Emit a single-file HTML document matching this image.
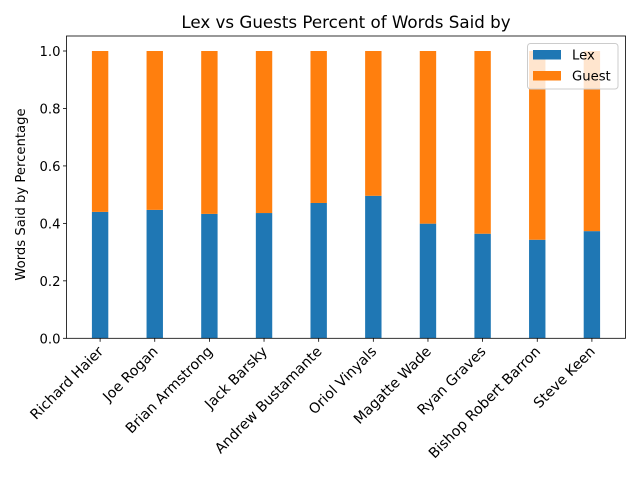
<!DOCTYPE html>
<html><head><meta charset="utf-8"><style>
body{margin:0;background:#fff}
svg{font-family:"DejaVu Sans","Liberation Sans",sans-serif}
</style></head><body>
<svg id="chart" width="640" height="480" xmlns="http://www.w3.org/2000/svg">
<rect width="640" height="480" fill="#fff"/>
<text x="346" y="28" text-anchor="middle" font-size="16.7">Lex vs Guests Percent of Words Said by</text>
<text transform="translate(25,194.5) rotate(-90)" text-anchor="middle" font-size="13.2">Words Said by Percentage</text>
<g id="bars"></g>
<g id="axes"></g>
<g>
<rect x="527.5" y="43.5" width="90.5" height="45.5" rx="3" fill="#fff" fill-opacity="0.8" stroke="#ccc"/>
<rect x="533" y="50" width="28" height="9.5" fill="#1f77b4"/>
<text x="572" y="59.5" font-size="13.2">Lex</text>
<rect x="533" y="71" width="28" height="9.5" fill="#ff7f0e"/>
<text x="572" y="80.5" font-size="13.2">Guest</text>
</g>
</svg>
<script>
const categories=["Richard Haier","Joe Rogan","Brian Armstrong","Jack Barsky","Andrew Bustamante","Oriol Vinyals","Magatte Wade","Ryan Graves","Bishop Robert Barron","Steve Keen"];
const lexValues=[0.44,0.447,0.433,0.436,0.471,0.496,0.399,0.364,0.343,0.373];
const guestValues=[0.56,0.553,0.567,0.564,0.529,0.504,0.601,0.636,0.657,0.627];
const yTicks=[0,0.2,0.4,0.6,0.8,1.0];
const yTickLabels=["0.0","0.2","0.4","0.6","0.8","1.0"];
const NS="http://www.w3.org/2000/svg";
const L=66.5,R=625.5,T=36,B=338.3;
const barW=0.3;
const xmin=-0.615,xmax=9.615,ymin=0;
const y1=(B-51)/1.0;
function xs(v){return L+(v-xmin)/(xmax-xmin)*(R-L);}
function ys(v){return B-(v-ymin)*y1;}
function mk(t,a,p){const e=document.createElementNS(NS,t);for(const k in a)e.setAttribute(k,a[k]);p.appendChild(e);return e;}
const bars=document.getElementById('bars'),axes=document.getElementById('axes');
const uw=(R-L)/(xmax-xmin);
categories.forEach((c,i)=>{
  const x=xs(i)-barW*uw/2;
  const r1=mk('rect',{x:x,y:ys(lexValues[i]),width:barW*uw,height:ys(0)-ys(lexValues[i]),fill:'#1f77b4'},bars);
  
  
  const top=lexValues[i]+guestValues[i];
  const r2=mk('rect',{x:x,y:ys(top),width:barW*uw,height:ys(lexValues[i])-ys(top),fill:'#ff7f0e'},bars);
  
  
  const tk=mk('line',{x1:xs(i),x2:xs(i),y1:B,y2:B+3.5,stroke:'#000','stroke-width':0.8},axes);
  
  
  const tx=xs(i)+4,ty=B+14;
  const lb=mk('text',{x:tx,y:ty,'text-anchor':'end','font-size':'14.2',transform:`rotate(-45 ${tx} ${ty})`},axes);
  lb.textContent=c;
  
  
});
yTicks.forEach((v,i)=>{
  const tk=mk('line',{x1:L-3.5,x2:L,y1:ys(v),y2:ys(v),stroke:'#000','stroke-width':0.8},axes);
  
  
  const lb=mk('text',{x:L-6,y:ys(v)+5,'text-anchor':'end','font-size':'13.2'},axes);
  lb.textContent=yTickLabels[i];
  
  
});
const fr=mk('rect',{x:L,y:T,width:R-L,height:B-T,fill:'none',stroke:'#000','stroke-width':0.8},axes);


</script>
</body></html>
